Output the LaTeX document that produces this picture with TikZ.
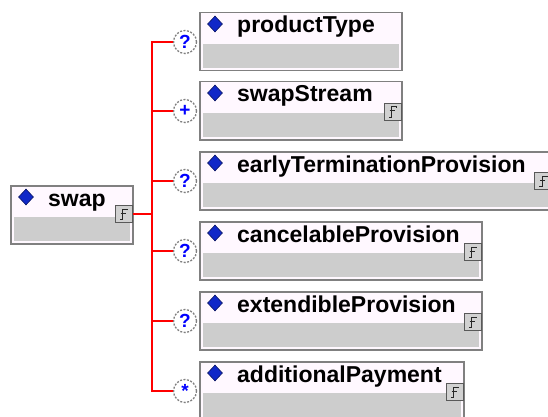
\documentclass[tikz,border=0pt]{standalone}
\usepackage{fontspec}
\setmainfont{Liberation Sans}
\usetikzlibrary{calc,shapes.geometric}

\definecolor{boxborder}{RGB}{128,128,128}
\definecolor{boxwhite}{RGB}{255,248,255}
\definecolor{bandgray}{RGB}{205,205,205}
\definecolor{markblue}{RGB}{16,40,200}

\tikzset{
  elembox/.style={draw=boxborder, line width=1.5pt, fill=boxwhite, minimum height=58pt, inner sep=0pt, anchor=north west,
    path picture={\fill[bandgray] ([shift={(3pt,-31pt)}]path picture bounding box.north west) rectangle ([shift={(-3pt,3pt)}]path picture bounding box.south east);}},
  elemlabel/.style={anchor=base west, inner sep=0pt, font=\fontsize{23}{23}\selectfont\bfseries},
  elemmark/.style={diamond, fill=markblue, draw=markblue!50!black, line width=0.6pt, minimum width=15pt, minimum height=16pt, inner sep=0pt},
  typeicon/.style={rectangle, draw=black!65, fill=black!18, line width=1pt, minimum size=17pt, inner sep=0pt,
    path picture={
      \draw[black!85, line width=1pt]
        ([shift={(4pt,4pt)}]path picture bounding box.center) -- ([shift={(4pt,5pt)}]path picture bounding box.center)
        -- ([shift={(-1pt,5pt)}]path picture bounding box.center) -- ([shift={(-1pt,-5pt)}]path picture bounding box.center)
        -- ([shift={(-4pt,-5pt)}]path picture bounding box.center);
      \draw[black!85, line width=1pt]
        ([shift={(-3pt,1pt)}]path picture bounding box.center) -- ([shift={(2pt,1pt)}]path picture bounding box.center);
    }},
  occur/.style={circle, draw=gray, dash pattern=on 2pt off 1.5pt, line width=1.3pt, fill=white, minimum size=23pt, inner sep=0pt,
    text=blue, font=\fontsize{19}{19}\selectfont\bfseries},
  tree/.style={red, line width=1.5pt}
}

\begin{document}
\begin{tikzpicture}[x=1pt, y=-1pt]
  \useasboundingbox (0,0) rectangle (548,417);
  \clip (0,0) rectangle (548,417);
  \fill[white] (0,0) rectangle (548,417);

  % parent element
  \node[elembox, minimum width=122pt] (swap) at (10,185) {};
  \node[elemmark] at ($(swap.north west)+(16,12)$) {};
  \node[elemlabel] at ($(swap.north west)+(38,21)$) {swap};
  \node[typeicon] (swapIcon) at ($(swap.north east)+(-10,29)$) {};

  % children of the sequence
  \node[elembox, minimum width=202pt] (productType) at (199,12) {};
  \node[elemmark] at ($(productType.north west)+(16,12)$) {};
  \node[elemlabel] at ($(productType.north west)+(38,21)$) {productType};

  \node[elembox, minimum width=202pt] (swapStream) at (199,81) {};
  \node[elemmark] at ($(swapStream.north west)+(16,12)$) {};
  \node[elemlabel] at ($(swapStream.north west)+(38,21)$) {swapStream};
  \node[typeicon] (swapStreamIcon) at ($(swapStream.north east)+(-10,31)$) {};

  \node[elembox, minimum width=362pt] (earlyTermination) at (199,151) {};
  \node[elemmark] at ($(earlyTermination.north west)+(16,12)$) {};
  \node[elemlabel] at ($(earlyTermination.north west)+(38,21)$) {earlyTerminationProvision};
  \node[typeicon] (earlyTerminationIcon) at (543,181) {};

  \node[elembox, minimum width=282pt] (cancelable) at (199,221) {};
  \node[elemmark] at ($(cancelable.north west)+(16,12)$) {};
  \node[elemlabel] at ($(cancelable.north west)+(38,21)$) {cancelableProvision};
  \node[typeicon] (cancelableIcon) at ($(cancelable.north east)+(-10,31)$) {};

  \node[elembox, minimum width=282pt] (extendible) at (199,291) {};
  \node[elemmark] at ($(extendible.north west)+(16,12)$) {};
  \node[elemlabel] at ($(extendible.north west)+(38,21)$) {extendibleProvision};
  \node[typeicon] (extendibleIcon) at ($(extendible.north east)+(-10,31)$) {};

  \node[elembox, minimum width=264pt] (additionalPayment) at (199,361) {};
  \node[elemmark] at ($(additionalPayment.north west)+(16,12)$) {};
  \node[elemlabel] at ($(additionalPayment.north west)+(38,21)$) {additionalPayment};
  \node[typeicon] (additionalPaymentIcon) at ($(additionalPayment.north east)+(-10,31)$) {};

  % occurrence marks
  \node[occur] (occProductType) at (185,42) {?};
  \node[occur] (occSwapStream) at (185,111) {+};
  \node[occur] (occEarlyTermination) at (185,181) {?};
  \node[occur] (occCancelable) at (185,251) {?};
  \node[occur] (occExtendible) at (185,321) {?};
  \node[occur] (occAdditionalPayment) at (185,391) {*};

  % tree lines
  \coordinate (fork) at (152,214);
  \draw[tree] (swapIcon.east) -- (fork) |- (occProductType.west);
  \draw[tree] (fork) |- (occSwapStream.west);
  \draw[tree] (fork) |- (occEarlyTermination.west);
  \draw[tree] (fork) |- (occCancelable.west);
  \draw[tree] (fork) |- (occExtendible.west);
  \draw[tree] (fork) |- (occAdditionalPayment.west);
\end{tikzpicture}
\end{document}
